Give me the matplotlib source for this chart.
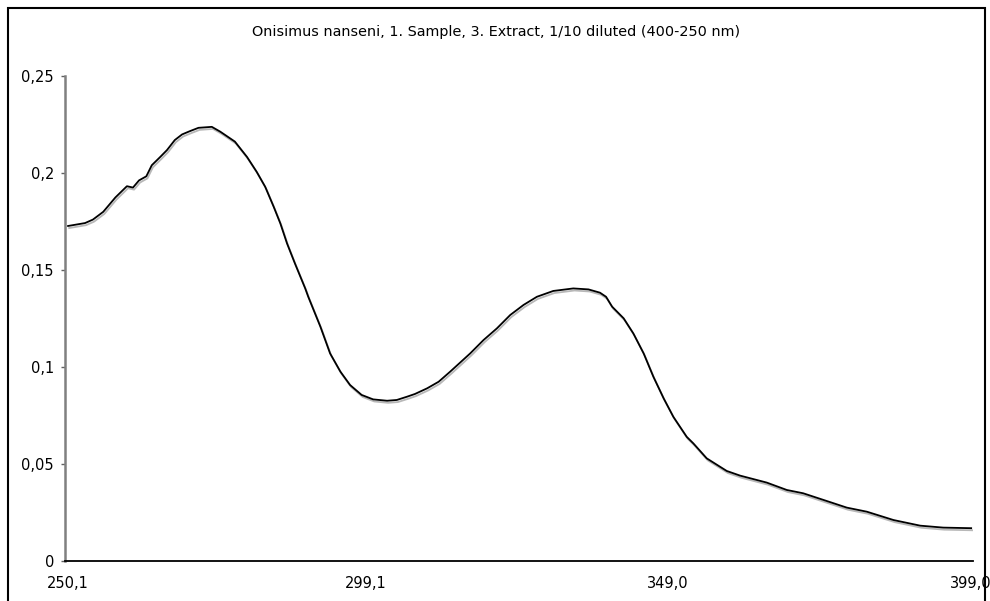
import matplotlib.pyplot as plt
import matplotlib.patheffects as pe
from matplotlib.patches import Rectangle

# absorbance spectrum, wavelength (nm) vs absorbance
wavelength = [250.1, 252.9, 254.2, 255.9, 257.9, 259.8, 260.8, 261.8, 263.0, 263.9,
              265.3, 266.4, 267.7, 268.9, 270.2, 271.6, 273.8, 275.2, 277.6, 279.6,
              281.2, 282.6, 284.0, 285.1, 286.2, 287.5, 289.2, 289.7, 291.7, 293.3,
              295.0, 296.6, 298.5, 300.4, 302.7, 304.3, 306.0, 307.3, 309.3, 311.2,
              313.1, 316.4, 318.6, 320.8, 323.0, 325.2, 327.4, 330.1, 333.4, 335.9,
              337.8, 338.8, 339.8, 341.7, 343.3, 345.0, 346.6, 348.3, 349.9, 352.1,
              353.2, 355.4, 358.7, 360.9, 365.3, 368.6, 371.3, 375.2, 378.5, 381.8,
              386.2, 390.6, 394.4, 399.0]
absorbance = [0.1727, 0.1742, 0.1760, 0.1800, 0.1874, 0.1932, 0.1925, 0.1962, 0.1983, 0.2040,
              0.2083, 0.2118, 0.2170, 0.2199, 0.2216, 0.2233, 0.2238, 0.2213, 0.2162, 0.2083,
              0.2006, 0.1929, 0.1826, 0.1740, 0.1637, 0.1534, 0.1405, 0.1362, 0.1208, 0.1070,
              0.0976, 0.0907, 0.0856, 0.0833, 0.0826, 0.0830, 0.0847, 0.0861, 0.0890, 0.0924,
              0.0976, 0.1070, 0.1139, 0.1199, 0.1268, 0.1320, 0.1362, 0.1392, 0.1405, 0.1400,
              0.1383, 0.1362, 0.1311, 0.1251, 0.1173, 0.1070, 0.0950, 0.0838, 0.0743, 0.0640,
              0.0606, 0.0529, 0.0464, 0.0440, 0.0404, 0.0366, 0.0349, 0.0309, 0.0275, 0.0254,
              0.0211, 0.0182, 0.0172, 0.0169]

x_ticks = [250.1, 299.1, 349.0, 399.0]
x_labels = ["250,1", "299,1", "349,0", "399,0"]
y_ticks = [0, 0.05, 0.1, 0.15, 0.2, 0.25]
y_labels = ["0", "0,05", "0,1", "0,15", "0,2", "0,25"]

title = "Onisimus nanseni, 1. Sample, 3. Extract, 1/10 diluted (400-250 nm)"

fig = plt.figure(figsize=(9.9, 6.01), dpi=100)
ax = fig.add_axes([0.0657, 0.0666, 0.9173, 0.8069])

ax.plot(wavelength, absorbance, color="black", lw=1.3, solid_joinstyle="round",
        path_effects=[pe.SimpleLineShadow(offset=(0.8, -1.5), shadow_color="#b8b8b8", alpha=1),
                      pe.Normal()])

ax.set_xlim(249.6, 399.33)
ax.set_ylim(0, 0.25)
ax.set_xticks(x_ticks)
ax.set_xticklabels(x_labels)
ax.set_yticks(y_ticks)
ax.set_yticklabels(y_labels)

ax.spines["top"].set_visible(False)
ax.spines["right"].set_visible(False)
ax.spines["left"].set_color("#808080")
ax.spines["left"].set_linewidth(1.8)
ax.spines["bottom"].set_linewidth(1.3)
ax.tick_params(axis="y", length=3, width=1, color="#606060", pad=5, labelsize=10.5)
ax.tick_params(axis="x", length=0, pad=11, labelsize=10.5)

fig.text(0.501, 0.947, title, ha="center", va="center", fontsize=10.4)

# outer frame, open at the bottom edge
fig.patches.append(Rectangle((0.0081, -0.02), 0.9869, 1.0067, transform=fig.transFigure,
                             fill=False, edgecolor="black", lw=1.5))

fig.savefig("out.png", dpi=100)
